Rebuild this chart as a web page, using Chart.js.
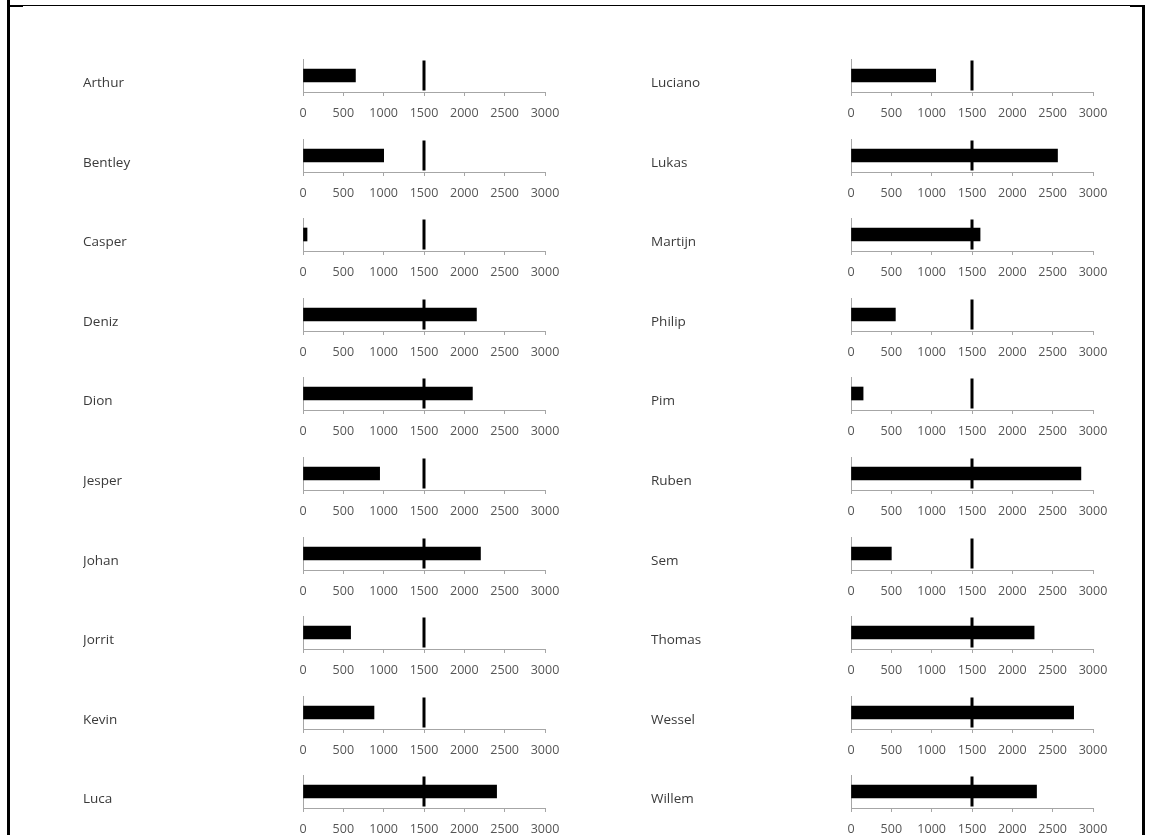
<!doctype html>
<html>

<head>
	<title>Bullet charts per person</title>
	<script src="https://cdn.jsdelivr.net/npm/chart.js@4.4.0/dist/chart.umd.min.js"></script>
	<style>
		html, body { margin: 0; padding: 0; background: #fff; }
		#page { position: relative; width: 1149px; height: 835px; overflow: hidden; }
		.edge { position: absolute; background: #000; }
		canvas { position: absolute; }
	</style>
</head>

<body>
	<div id="page">
		<div class="edge" style="left:7px;top:0;width:3px;height:835px"></div>
		<div class="edge" style="left:7px;top:5px;width:1136px;height:1px"></div>
		<div class="edge" style="left:10px;top:5px;width:13px;height:2px"></div>
		<div class="edge" style="left:1130px;top:5px;width:13px;height:2px"></div>
		<div class="edge" style="left:1142px;top:5px;width:3px;height:830px"></div>
	</div>

	<script>
		var leftNames = ['Arthur', 'Bentley', 'Casper', 'Deniz', 'Dion', 'Jesper', 'Johan', 'Jorrit', 'Kevin', 'Luca'];
		var leftValues = [650, 1000, 50, 2150, 2100, 950, 2200, 590, 880, 2400];
		var rightNames = ['Luciano', 'Lukas', 'Martijn', 'Philip', 'Pim', 'Ruben', 'Sem', 'Thomas', 'Wessel', 'Willem'];
		var rightValues = [1050, 2560, 1600, 550, 150, 2850, 500, 2270, 2760, 2300];
		var target = 1500;
		var axisTicks = [0, 500, 1000, 1500, 2000, 2500, 3000];

		var AXIS_GREY = '#a6a6a6';
		var ROW_STEP = 79.6;

		// vertical marker for the target value
		var targetLine = {
			id: 'targetLine',
			afterDatasetsDraw: function(chart, args, opts) {
				var ctx = chart.ctx;
				var x = chart.scales.x.getPixelForValue(opts.value);
				var y = chart.scales.y.getPixelForValue(0);
				ctx.save();
				ctx.fillStyle = '#000';
				ctx.fillRect(x - 1.5, y - 15, 3, 30);
				ctx.restore();
			}
		};

		function bullet(name, value, left, top, labelWidth) {
			var canvas = document.createElement('canvas');
			canvas.width = labelWidth + 280;
			canvas.height = 67;
			canvas.style.left = left + 'px';
			canvas.style.top = top + 'px';
			document.getElementById('page').appendChild(canvas);

			new Chart(canvas.getContext('2d'), {
				type: 'bar',
				data: {
					labels: [name],
					datasets: [{
						data: [value],
						backgroundColor: '#000',
						barThickness: 13
					}]
				},
				plugins: [targetLine],
				options: {
					indexAxis: 'y',
					responsive: false,
					animation: false,
					devicePixelRatio: 1,
					layout: { padding: { left: 0, right: 38, top: 4, bottom: 0 } },
					plugins: {
						legend: { display: false },
						tooltip: { enabled: false },
						targetLine: { value: target }
					},
					scales: {
						x: {
							min: 0,
							max: 3000,
							afterBuildTicks: function(s) {
								s.ticks = axisTicks.map(function(v) { return { value: v }; });
							},
							afterFit: function(s) {
								s.height = 30;
								s.paddingLeft = 0;
								s.paddingRight = 0;
							},
							grid: {
								drawOnChartArea: false,
								drawTicks: true,
								tickLength: 4,
								color: AXIS_GREY
							},
							border: { color: AXIS_GREY, width: 1 },
							ticks: {
								padding: 10,
								color: '#555',
								font: { family: 'Open Sans', size: 12.5 },
								callback: function(v) { return String(v); }
							}
						},
						y: {
							afterFit: function(s) {
								s.width = labelWidth;
								s.paddingTop = 0;
								s.paddingBottom = 0;
							},
							grid: { display: false },
							border: { color: AXIS_GREY, width: 1 },
							ticks: {
								crossAlign: 'far',
								labelOffset: 8,
								color: '#3a3a3a',
								font: { family: 'Open Sans', size: 13.5 }
							}
						}
					}
				}
			});
		}

		leftNames.forEach(function(n, i) {
			bullet(n, leftValues[i], 83, 55 + i * ROW_STEP, 220);
		});
		rightNames.forEach(function(n, i) {
			bullet(n, rightValues[i], 651, 55 + i * ROW_STEP, 200);
		});
	</script>
</body>

</html>
